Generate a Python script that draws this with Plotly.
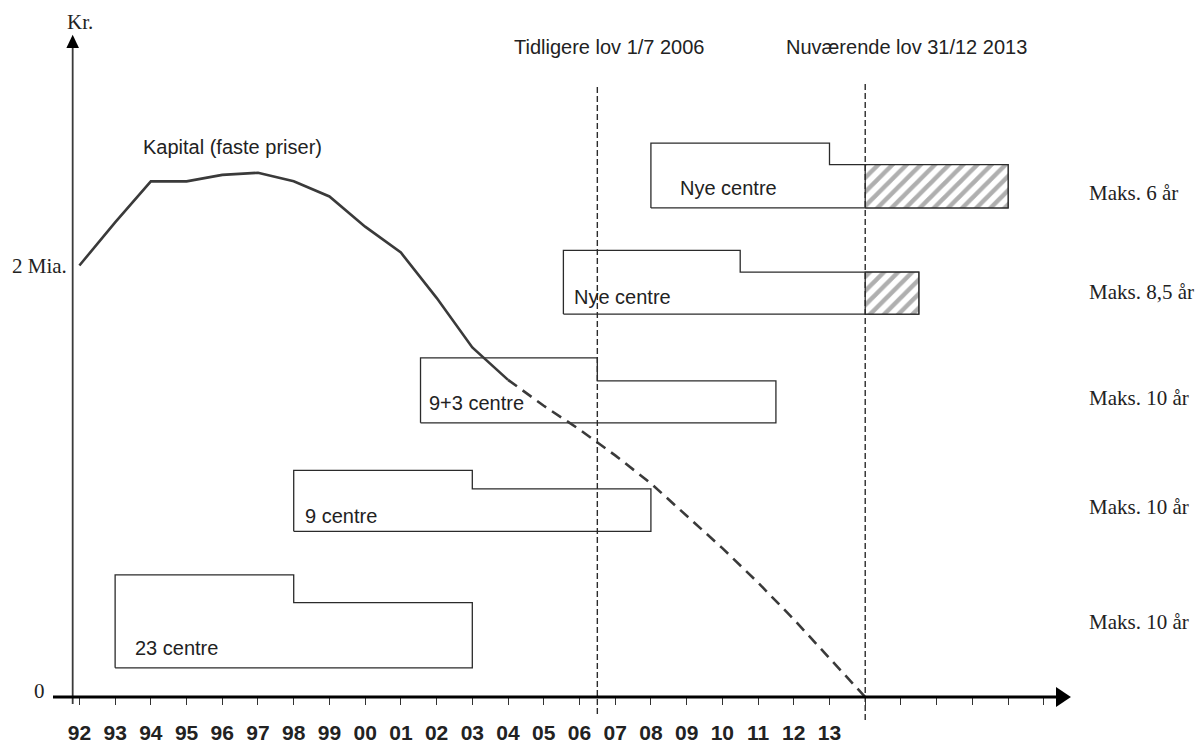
import plotly.graph_objects as go

# ---------------- data ----------------
years_solid = [1992, 1993, 1994, 1995, 1996, 1997, 1998, 1999, 2000, 2001, 2002, 2003, 2004]
kapital_solid = [2.00, 2.20, 2.39, 2.39, 2.42, 2.43, 2.39, 2.32, 2.18, 2.06, 1.85, 1.62, 1.47]

years_proj = [2004, 2005, 2006, 2007, 2008, 2009, 2010, 2011, 2012, 2013, 2014]
kapital_proj = [1.47, 1.35, 1.24, 1.12, 0.99, 0.84, 0.69, 0.53, 0.36, 0.18, 0.0]

box_labels = ["23 centre", "9 centre", "9+3 centre", "Nye centre", "Nye centre"]
box_start = [1993.0, 1998.0, 2001.55, 2005.55, 2008.0]
box_step = [1998.0, 2003.0, 2006.5, 2010.5, 2013.0]
box_end = [2003.0, 2008.0, 2011.5, 2015.5, 2018.0]
box_top = [0.566, 1.050, 1.572, 2.070, 2.567]
box_mid = [0.437, 0.965, 1.465, 1.969, 2.468]
box_bottom = [0.135, 0.768, 1.271, 1.775, 2.267]
hatch_start = [None, None, None, 2014.0, 2014.0]

maks_labels = ["Maks. 6 år", "Maks. 8,5 år", "Maks. 10 år", "Maks. 10 år", "Maks. 10 år"]

law_dates = [2006.5, 2014.0]
law_labels = ["Tidligere lov 1/7 2006", "Nuværende lov 31/12 2013"]

tick_years = list(range(1992, 2020))
tick_labels = ["92", "93", "94", "95", "96", "97", "98", "99", "00", "01", "02",
               "03", "04", "05", "06", "07", "08", "09", "10", "11", "12", "13",
               "", "", "", "", "", ""]

# ---------------- styles ----------------
SANS = "Liberation Sans, Arial, sans-serif"
SERIF = "Liberation Serif, Times New Roman, serif"
DARK = "#2b2b2b"

fig = go.Figure()

# boxes (step outlines)
for i in range(len(box_labels)):
    xs = [box_start[i], box_start[i], box_step[i], box_step[i], box_end[i], box_end[i], box_start[i]]
    ys = [box_bottom[i], box_top[i], box_top[i], box_mid[i], box_mid[i], box_bottom[i], box_bottom[i]]
    fig.add_trace(go.Scatter(x=xs, y=ys, mode="lines",
                             line=dict(color=DARK, width=1.3),
                             hoverinfo="skip", showlegend=False))
    if hatch_start[i] is not None:
        hx = [hatch_start[i], box_end[i], box_end[i], hatch_start[i], hatch_start[i]]
        hy = [box_bottom[i], box_bottom[i], box_mid[i], box_mid[i], box_bottom[i]]
        fig.add_trace(go.Scatter(x=hx, y=hy, mode="lines", fill="toself",
                                 fillcolor="white",
                                 fillpattern=dict(shape="/", fgcolor="#5f5f5f", bgcolor="white",
                                                  size=10, solidity=0.45),
                                 line=dict(color=DARK, width=1.3),
                                 hoverinfo="skip", showlegend=False))

# capital curve
fig.add_trace(go.Scatter(x=years_solid, y=kapital_solid, mode="lines",
                         line=dict(color="#3a3a3a", width=2.6),
                         hoverinfo="skip", showlegend=False))
fig.add_trace(go.Scatter(x=years_proj, y=kapital_proj, mode="lines",
                         line=dict(color="#3a3a3a", width=2.6, dash="11px,7px"),
                         hoverinfo="skip", showlegend=False))

shapes = []
# law date dashed verticals
shapes.append(dict(type="line", xref="x", yref="paper", x0=law_dates[0], x1=law_dates[0],
                   y0=-0.0244, y1=0.878, line=dict(color=DARK, width=1.4, dash="6px,3px")))
shapes.append(dict(type="line", xref="x", yref="paper", x0=law_dates[1], x1=law_dates[1],
                   y0=-0.033, y1=0.881, line=dict(color=DARK, width=1.4, dash="6px,3px")))
# y axis with arrow
shapes.append(dict(type="line", xref="x", yref="paper", x0=1991.812, x1=1991.812,
                   y0=-0.010, y1=0.932, line=dict(color="#3a3a3a", width=1.8)))
shapes.append(dict(type="path", xref="x", yref="paper",
                   path="M 1991.636 0.931 L 1991.988 0.931 L 1991.812 0.950 Z",
                   fillcolor="black", line=dict(width=0)))
# x axis with arrow
shapes.append(dict(type="line", xref="paper", yref="paper", x0=0, x1=1.0, y0=0, y1=0,
                   line=dict(color="black", width=3)))
shapes.append(dict(type="path", xref="paper", yref="paper",
                   path="M 0.999 -0.0144 L 1.0139 0 L 0.999 0.0144 Z",
                   fillcolor="black", line=dict(width=0)))

annotations = []
# box labels
label_x = [1993.50, 1998.26, 2001.74, 2005.80, 2008.76]
label_y = [0.226, 0.840, 1.361, 1.855, 2.358]
for t, x, y in zip(box_labels, label_x, label_y):
    annotations.append(dict(text=t, x=x, y=y, xref="x", yref="y", xanchor="left",
                            yanchor="middle", showarrow=False,
                            font=dict(family=SANS, size=20, color="#222")))
# Maks labels (right side)
maks_y = [2.335, 1.879, 1.384, 0.882, 0.348]
for t, y in zip(maks_labels, maks_y):
    annotations.append(dict(text=t, x=1.0299, y=y, xref="paper", yref="y", xanchor="left",
                            yanchor="middle", showarrow=False,
                            font=dict(family=SERIF, size=21, color="#222")))
# law labels
annotations.append(dict(text=law_labels[0], x=2006.85, y=3.014, xref="x", yref="y",
                        xanchor="center", yanchor="middle", showarrow=False,
                        font=dict(family=SANS, size=20, color="#222")))
annotations.append(dict(text=law_labels[1], x=2018.58, y=3.014, xref="x", yref="y",
                        xanchor="right", yanchor="middle", showarrow=False,
                        font=dict(family=SANS, size=20, color="#222")))
# curve label
annotations.append(dict(text="Kapital (faste priser)", x=1996.30, y=2.551, xref="x", yref="y",
                        xanchor="center", yanchor="middle", showarrow=False,
                        font=dict(family=SANS, size=20, color="#222")))
# y axis labels
annotations.append(dict(text="Kr.", x=1992.02, y=3.129, xref="x", yref="y",
                        xanchor="center", yanchor="middle", showarrow=False,
                        font=dict(family=SERIF, size=21, color="#222")))
annotations.append(dict(text="2 Mia.", x=1991.72, y=2.0, xref="x", yref="y",
                        xanchor="right", yanchor="middle", showarrow=False,
                        font=dict(family=SERIF, size=21, color="#222")))
annotations.append(dict(text="0", x=-0.0055, y=0.028, xref="paper", yref="y",
                        xanchor="right", yanchor="middle", showarrow=False,
                        font=dict(family=SERIF, size=21, color="#222")))

fig.update_layout(
    width=1198, height=747,
    margin=dict(l=53, r=141, t=0, b=50, pad=0, autoexpand=False),
    paper_bgcolor="white", plot_bgcolor="white",
    showlegend=False, hovermode=False,
    shapes=shapes, annotations=annotations,
    xaxis=dict(range=[1991.261, 2019.369], showgrid=False, zeroline=False, showline=False,
               automargin=False,
               tickmode="array", tickvals=tick_years, ticktext=tick_labels,
               ticks="outside", ticklen=7, tickwidth=1.3, tickcolor="#333",
               ticklabelstandoff=10,
               tickfont=dict(family=SANS, size=21, color="#222", weight="bold"),
               fixedrange=True),
    yaxis=dict(range=[0, 3.2306], visible=False, automargin=False, fixedrange=True),
)

fig.write_html("out.html", config={"displayModeBar": False},
               post_script="document.body.style.margin='0';document.body.style.overflow='hidden';")
